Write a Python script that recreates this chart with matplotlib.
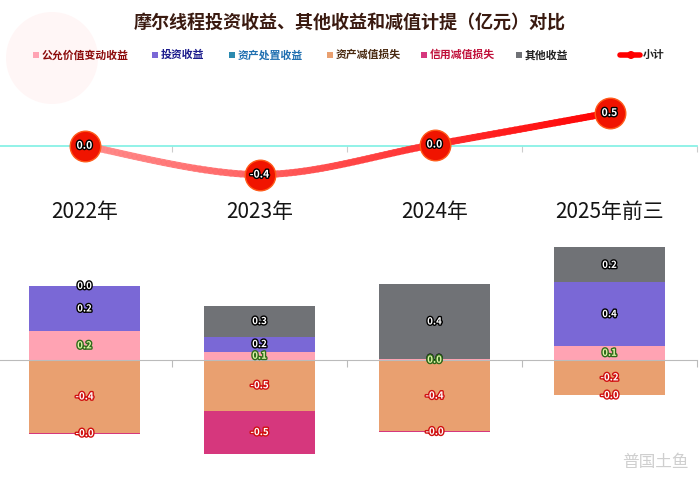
import numpy as np
import matplotlib.pyplot as plt
import matplotlib.patheffects as pe
from matplotlib.collections import LineCollection
from matplotlib.patches import Circle, Ellipse, Rectangle

plt.rcParams['font.family'] = ['Noto Sans CJK SC', 'DejaVu Sans']

# data (亿元)
years = ['2022年', '2023年', '2024年', '2025年前三']
gongyun = [0.16, 0.09, 0.003, 0.09]      # 公允价值变动收益
touzi = [0.245, 0.16, 0.003, 0.40]       # 投资收益
chuzhi = [0.0, 0.0, 0.0, 0.0]            # 资产处置收益
zichan = [-0.40, -0.54, -0.39, -0.22]    # 资产减值损失
xinyong = [-0.004, -0.46, -0.004, -0.004]  # 信用减值损失
qita = [0.003, 0.33, 0.41, 0.22]         # 其他收益

series_names = ['公允价值变动收益', '投资收益', '资产处置收益', '资产减值损失', '信用减值损失', '其他收益']
series_vals = [gongyun, touzi, chuzhi, zichan, xinyong, qita]
bar_colors = ['#ffa3b3', '#7a68d6', '#2a8ab0', '#e9a070', '#d6377d', '#707276']
text_colors = ['#8b0a0a', '#1a1a8c', '#1f6fb0', '#4a2a10', '#c0103a', '#222222']
label_style = ['green', 'dark', 'dark', 'red', 'red', 'dark']

vals = np.array(series_vals)
subtotal = vals.sum(axis=0)
share = vals / np.abs(vals).sum(axis=0)

W, H = 700, 479
fig = plt.figure(figsize=(7, 4.79), dpi=100)
fig.patch.set_facecolor('white')

def fy(px):
    return 1 - px / H

# faint watermark circle top-left
fig.patches.append(Ellipse((52 / W, fy(58)), 92 / W, 92 / H, transform=fig.transFigure,
                           facecolor='#fff6f6', edgecolor='none', zorder=0))

fig.text(0.5, fy(22), '摩尔线程投资收益、其他收益和减值计提（亿元）对比', ha='center', va='center',
         fontsize=13, fontweight='bold', color='#3a1a10')

# legend
leg_x = [36, 155, 232, 330, 424, 519]
for x, name, bc, tc in zip(leg_x, series_names, bar_colors, text_colors):
    fig.patches.append(Rectangle(((x - 3) / W, fy(58)), 6 / W, 6 / H, transform=fig.transFigure,
                                 facecolor=bc, edgecolor='none'))
    fig.text((x + 6) / W, fy(55), name, ha='left', va='center', fontsize=7.8,
             fontweight='bold', color=tc)
fig.lines.append(plt.Line2D([620 / W, 640 / W], [fy(55), fy(55)], transform=fig.transFigure,
                            color='red', lw=4, solid_capstyle='round'))
fig.patches.append(Ellipse((631 / W, fy(55)), 8 / W, 8 / H, transform=fig.transFigure,
                           facecolor='red', edgecolor='none'))
fig.text(643 / W, fy(55), '小计', ha='left', va='center', fontsize=7.8,
         fontweight='bold', color='#222222')

x = np.arange(len(years))

# ---- top: subtotal line ----
k_top = 68
ax1 = fig.add_axes([-3 / W, fy(235), 1.0, 160 / H])
ax1.set_xlim(-0.5, 3.5)
ax1.set_ylim(-(235 - 146) / k_top, (146 - 75) / k_top)
for s in ['top', 'right', 'left']:
    ax1.spines[s].set_visible(False)
ax1.spines['bottom'].set_position(('data', 0))
ax1.spines['bottom'].set_color('#7ff0e4')
ax1.spines['bottom'].set_linewidth(1.2)
ax1.set_xticks([0.5, 1.5, 2.5, 3.5])
ax1.set_xticklabels([])
ax1.set_yticks([])
ax1.tick_params(axis='x', direction='out', length=4, color='#cccccc')
ax1.patch.set_alpha(0)

# smooth path through the subtotal points (Catmull-Rom)
pts = np.column_stack([x, subtotal])
ext = np.vstack([pts[0], pts, pts[-1]])
curve = []
for i in range(1, len(ext) - 2):
    p0, p1, p2, p3 = ext[i - 1], ext[i], ext[i + 1], ext[i + 2]
    t = np.linspace(0, 1, 40)[:, None]
    c = 0.5 * ((2 * p1) + (-p0 + p2) * t + (2 * p0 - 5 * p1 + 4 * p2 - p3) * t ** 2
               + (-p0 + 3 * p1 - 3 * p2 + p3) * t ** 3)
    curve.append(c)
curve = np.vstack(curve)
segs = np.stack([curve[:-1], curve[1:]], axis=1)
frac = np.linspace(0, 1, len(segs))
cols = np.column_stack([np.ones_like(frac), 0.55 * (1 - frac), 0.55 * (1 - frac), 0.75 + 0.25 * frac])
lc = LineCollection(segs, colors=cols, linewidths=5, capstyle='round', zorder=3)
ax1.add_collection(lc)

ax1.scatter(x, subtotal, s=22 ** 2, color='#f01400', edgecolor='#ff5a1a', linewidth=1, zorder=4)
for xi, v in zip(x, subtotal):
    ax1.text(xi, v, f'{v:.1f}', ha='center', va='center', fontsize=7.5, fontweight='bold',
             color='white', zorder=5,
             path_effects=[pe.withStroke(linewidth=2, foreground='black')])
for xi, lab in zip(x, years):
    ax1.text(xi, (146 - 212) / k_top, lab, ha='center', va='center', fontsize=15,
             fontweight='medium', color='#141414')

# ---- bottom: stacked bars (share of absolute total) ----
k_bot = 148
ax2 = fig.add_axes([-3 / W, fy(475), 1.0, 240 / H])
ax2.set_xlim(-0.5, 3.5)
ax2.set_ylim(-(475 - 360) / k_bot, (360 - 235) / k_bot)
for s in ['top', 'right', 'left']:
    ax2.spines[s].set_visible(False)
ax2.spines['bottom'].set_position(('data', 0))
ax2.spines['bottom'].set_color('#bbbbbb')
ax2.set_xticks([0.5, 1.5, 2.5, 3.5])
ax2.set_xticklabels([])
ax2.set_yticks([])
ax2.tick_params(axis='x', direction='out', length=5, color='#bbbbbb')
ax2.patch.set_alpha(0)

pos_base = np.zeros(len(years))
neg_base = np.zeros(len(years))
styles = {
    'dark': ('white', 'black'),
    'green': ('#e0f5a8', '#2f6b1a'),
    'red': ('white', '#d01010'),
}
for j, (name, v, sh) in enumerate(zip(series_names, vals, share)):
    base = np.where(sh >= 0, pos_base, neg_base)
    ax2.bar(x, sh, width=0.63, bottom=base, color=bar_colors[j], edgecolor='none', zorder=2)
    fc, ec = styles[label_style[j]]
    for xi, b, h, val in zip(x, base, sh, v):
        if val == 0:
            continue
        ax2.text(xi, b + h / 2, f'{val:.1f}', ha='center', va='center', fontsize=7,
                 fontweight='bold', color=fc, zorder=10 - j if j else 12,
                 path_effects=[pe.withStroke(linewidth=2, foreground=ec)])
    pos_base = pos_base + np.where(sh > 0, sh, 0)
    neg_base = neg_base + np.where(sh < 0, sh, 0)

fig.text(622 / W, fy(462), '普国土鱼', ha='left', va='center', fontsize=12, color='#cfcfcf')

fig.savefig('out.png', dpi=100, facecolor='white')
